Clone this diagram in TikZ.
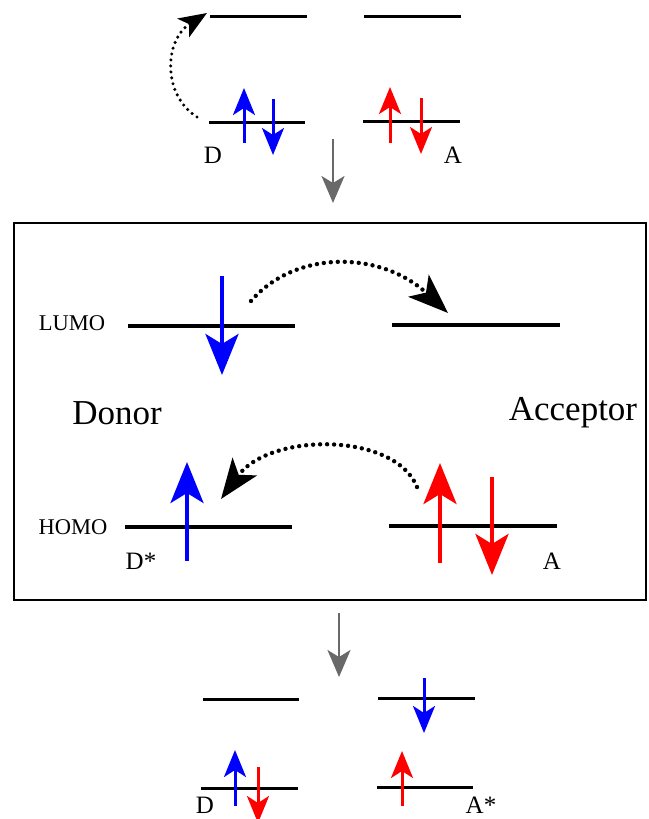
\documentclass[tikz,border=0pt]{standalone}
\usepackage{fontspec}
\setmainfont{Liberation Serif}
\usetikzlibrary{arrows.meta}
\begin{document}
\begin{tikzpicture}[x=1pt,y=-1pt,
  lvS/.style={line width=3pt},
  lvL/.style={line width=4.5pt},
  spinS/.style={line width=3pt,-{Stealth[length=27pt,width=22pt,inset=7pt]}},
  spinL/.style={line width=4pt,-{Stealth[length=41pt,width=33pt,inset=10pt]}},
  flowarrow/.style={line width=2.5pt,color={rgb,255:red,105;green,105;blue,105},-{Stealth[length=27pt,width=23pt,inset=7pt]}},
  hopS/.style={line width=3.4pt,line cap=round,dash pattern=on 0pt off 6pt,-{Stealth[length=28pt,width=22pt,inset=7pt]}},
  hopL/.style={line width=4.4pt,line cap=round,dash pattern=on 0pt off 7pt,-{Stealth[length=40pt,width=30pt,inset=10pt]}},
  smalltxt/.style={font=\fontsize{22.5}{26}\selectfont,inner sep=0pt},
  statetxt/.style={font=\fontsize{25}{29}\selectfont,inner sep=0pt},
  bigtxt/.style={font=\fontsize{35}{40}\selectfont,inner sep=0pt}
]
\useasboundingbox (0,0) rectangle (648,819);

% ---------- top: ground state ----------
\draw[lvS] (210,16) -- (307,16);
\draw[lvS] (364,16) -- (461,16);
\draw[lvS] (209,122) -- (305,122);
\draw[lvS] (363,121) -- (460,121);
\draw[spinS,blue] (244,143) -- (244,88);
\draw[spinS,blue] (273,99) -- (273,155);
\draw[spinS,red] (390,143) -- (390,87);
\draw[spinS,red] (421,98) -- (421,154);
\node[statetxt] (tD) at (213,155) {D};
\node[statetxt] (tA) at (453,155) {A};
\coordinate (hs1) at (197,117);
\coordinate (he1) at (207,13);
\draw[hopS] (hs1) .. controls (162,95) and (164,40) .. (he1);
\coordinate (g1a) at (333,139);
\coordinate (g1b) at (333,203);
\draw[flowarrow] (g1a) -- (g1b);

% ---------- box: charge transfer ----------
\draw[line width=2pt] (14,223) rectangle (646,600);
\node[smalltxt] (lumo) at (72,323) {LUMO};
\node[smalltxt] (homo) at (73,527) {HOMO};
\draw[lvL] (128,326) -- (295,326);
\draw[lvL] (392,325) -- (560,325);
\draw[lvL] (125,527) -- (292,527);
\draw[lvL] (389,526) -- (557,526);
\draw[spinL,blue] (222,276) -- (222,375);
\draw[spinL,blue] (187,561) -- (187,462);
\draw[spinL,red] (440,563) -- (440,463);
\draw[spinL,red] (492,477) -- (492,575);
\node[bigtxt] (donor) at (117,413) {Donor};
\node[bigtxt] (acceptor) at (573,413) {Acceptor};
\node[statetxt] (dstar) at (141,561) {D*};
\node[statetxt] (bA) at (552,561) {A};
\coordinate (hs2) at (251,301);
\coordinate (he2) at (448,313);
\draw[hopL] (hs2) .. controls (295,250) and (380,250) .. (he2);
\coordinate (hs3) at (417,487);
\coordinate (he3) at (221,499);
\draw[hopL] (hs3) .. controls (395,432) and (270,432) .. (he3);

% ---------- bottom: charge-separated state ----------
\coordinate (g2a) at (339,613);
\coordinate (g2b) at (339,677);
\draw[flowarrow] (g2a) -- (g2b);
\draw[lvS] (203,699) -- (299,699);
\draw[lvS] (378,698) -- (475,698);
\draw[lvS] (201,788) -- (298,788);
\draw[lvS] (377,787) -- (473,787);
\draw[spinS,blue] (424,678) -- (424,733);
\draw[spinS,blue] (235,806) -- (235,750);
\draw[spinS,red] (258,767) -- (258,823);
\draw[spinS,red] (402,806) -- (402,751);
\node[statetxt] (bD) at (205,805) {D};
\node[statetxt] (bAs) at (481,805) {A*};
\end{tikzpicture}
\end{document}
